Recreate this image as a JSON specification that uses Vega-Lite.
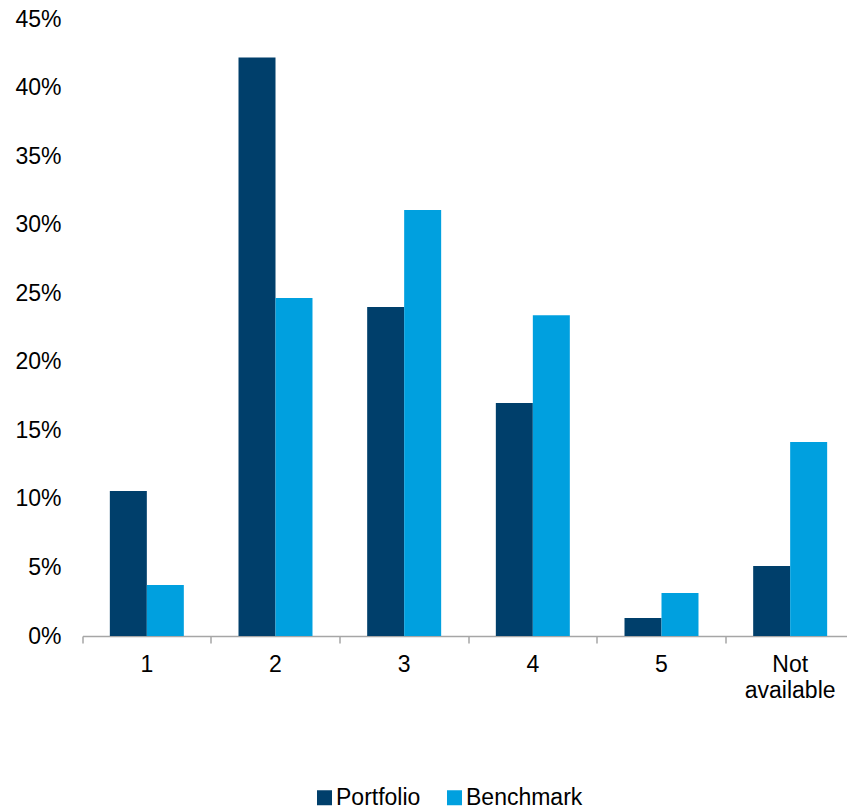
{
  "$schema": "https://vega.github.io/schema/vega-lite/v6.json",
  "autosize": {"type": "none"},
  "padding": {"left": 82.5, "top": 19, "right": -7.5, "bottom": 174},
  "width": 772,
  "height": 617,
  "config": {
    "view": {"stroke": null},
    "font": "Liberation Sans",
    "axis": {"labelFont": "Liberation Sans", "labelColor": "#000000", "labelFontSize": 23, "title": null}
  },
  "data": {
    "values": [
      {"category": "1", "series": "Portfolio", "value": 0.1057},
      {"category": "1", "series": "Benchmark", "value": 0.0372},
      {"category": "2", "series": "Portfolio", "value": 0.422},
      {"category": "2", "series": "Benchmark", "value": 0.2465},
      {"category": "3", "series": "Portfolio", "value": 0.240},
      {"category": "3", "series": "Benchmark", "value": 0.3107},
      {"category": "4", "series": "Portfolio", "value": 0.170},
      {"category": "4", "series": "Benchmark", "value": 0.234},
      {"category": "5", "series": "Portfolio", "value": 0.0131},
      {"category": "5", "series": "Benchmark", "value": 0.0314},
      {"category": "Not available", "series": "Portfolio", "value": 0.051},
      {"category": "Not available", "series": "Benchmark", "value": 0.1415}
    ]
  },
  "mark": {"type": "bar"},
  "encoding": {
    "x": {
      "field": "category",
      "type": "nominal",
      "sort": null,
      "scale": {"paddingInner": 0, "paddingOuter": 0},
      "axis": {
        "labelAngle": 0,
        "domainColor": "#a6a6a6",
        "domainWidth": 1.5,
        "tickColor": "#a6a6a6",
        "tickWidth": 1.5,
        "tickSize": 7,
        "bandPosition": 0,
        "labelPadding": 10,
        "labelLineHeight": 26,
        "labelExpr": "datum.value == 'Not available' ? ['Not', 'available'] : datum.value"
      }
    },
    "xOffset": {
      "field": "series",
      "type": "nominal",
      "sort": ["Portfolio", "Benchmark"],
      "scale": {"paddingInner": 0, "paddingOuter": 0.739}
    },
    "y": {
      "field": "value",
      "type": "quantitative",
      "scale": {"domain": [0, 0.45], "nice": false},
      "axis": {
        "format": ".0%",
        "values": [0, 0.05, 0.1, 0.15, 0.2, 0.25, 0.3, 0.35, 0.4, 0.45],
        "domain": false,
        "ticks": false,
        "grid": false,
        "labelPadding": 21.5
      }
    },
    "color": {
      "field": "series",
      "type": "nominal",
      "sort": ["Portfolio", "Benchmark"],
      "scale": {"domain": ["Portfolio", "Benchmark"], "range": ["#003f6b", "#00a0df"]},
      "legend": {
        "title": null,
        "orient": "none",
        "direction": "horizontal",
        "legendX": 230.5,
        "legendY": 767,
        "symbolType": "square",
        "symbolSize": 225,
        "symbolStrokeWidth": 0,
        "symbolOpacity": 1,
        "labelFont": "Liberation Sans",
        "labelFontSize": 23,
        "labelColor": "#000000",
        "labelOffset": 0,
        "columnPadding": 22
      }
    }
  }
}
